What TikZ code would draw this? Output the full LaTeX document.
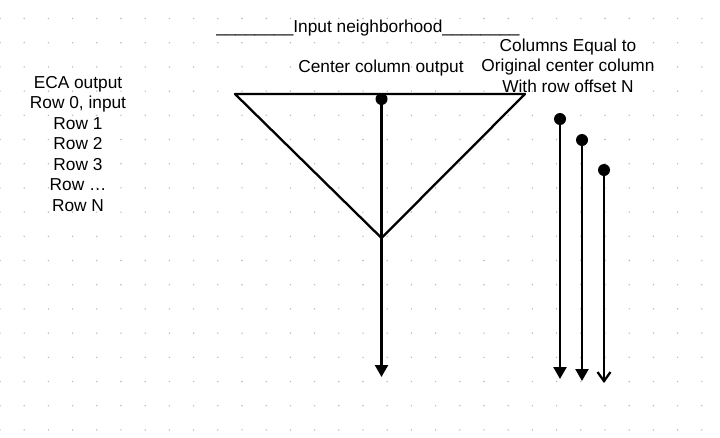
\documentclass[tikz,border=0pt]{standalone}
\usepackage{fontspec}
\setmainfont{Liberation Sans}
\usetikzlibrary{arrows.meta}

\begin{document}
\begin{tikzpicture}[x=1pt,y=-1pt,line width=2.3pt,
  every node/.style={inner sep=0pt,font=\fontsize{17.3}{20.7}\selectfont},
  lbl/.style={anchor=base},
  column/.style={-{Triangle[length=12pt,width=13pt]}},
  openhead/.style={-{Straight Barb[length=9pt,width=13pt]}},
  knob/.style={circle,fill=black,minimum size=12pt,inner sep=0pt}]
\useasboundingbox (0,0) rectangle (720,437);
% dotted paper
\foreach \i in {0,...,29}
  \foreach \j in {0,...,17}
    \fill[black!28] (24.2*\i,18.5+24.2*\j) circle (0.8);
% labels
\node[lbl] (hood) at (368,32) {\_\_\_\_\_\_\_\_Input neighborhood\_\_\_\_\_\_\_\_};
\node[lbl] (center) at (381,72) {Center column output};
\node[lbl] (eq1) at (568,51) {Columns Equal to};
\node[lbl] (eq2) at (568,71.5) {Original center column};
\node[lbl] (eq3) at (568,92) {With row offset N};
\foreach \t [count=\k] in {ECA output,{Row 0, input},Row 1,Row 2,Row 3,{Row \ldots},Row N}
  \node[lbl] (row\k) at (78,67.5+20.5*\k) {\t};
% neighborhood triangle
\coordinate (tl) at (235,94);
\coordinate (tr) at (525,94);
\coordinate (apex) at (381.5,238);
\draw[line join=round] (tl) -- (tr) -- (apex) -- cycle;
% center column
\node[knob] (c0) at (381.5,99) {};
\coordinate (c0end) at (381.5,377);
\draw[column] (c0.center) -- (c0end);
% shifted columns
\node[knob] (c1) at (560,119) {};
\node[knob] (c2) at (582,140) {};
\node[knob] (c3) at (604,170) {};
\coordinate (c1end) at (560,379);
\coordinate (c2end) at (582,381);
\coordinate (c3end) at (604,383);
\draw[column] (c1.center) -- (c1end);
\draw[column] (c2.center) -- (c2end);
\draw[openhead] (c3.center) -- (c3end);
\end{tikzpicture}
\end{document}
